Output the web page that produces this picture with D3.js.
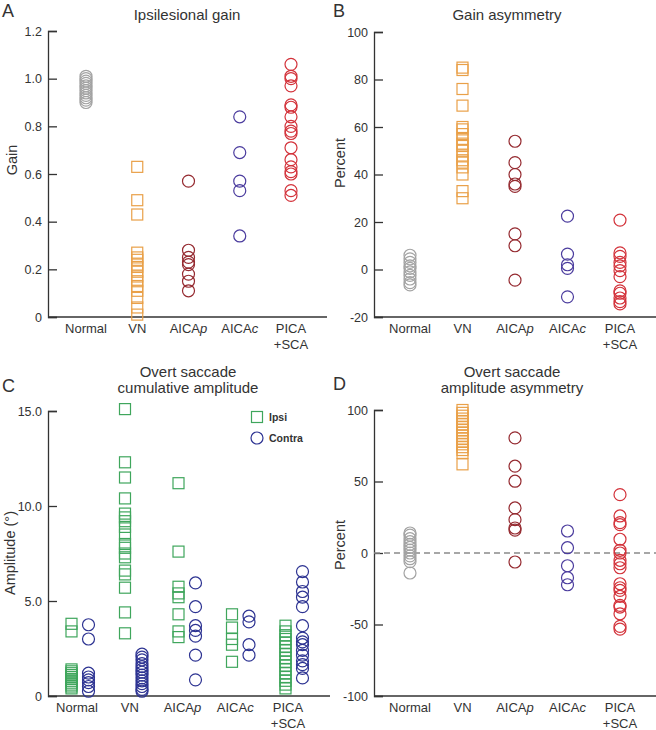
<!DOCTYPE html>
<html>
<head>
<meta charset="utf-8">
<script src="https://cdn.jsdelivr.net/npm/d3@7"></script>
<style>
  body { margin: 0; background: #fff; }
  text { font-family: "Liberation Sans", Arial, sans-serif; fill: #333; }
</style>
</head>
<body>
<div id="chart"></div>
<script>
const categories = ["Normal", "VN", "AICAp", "AICAc", "PICA+SCA"]

// A: ipsilesional gain
const gainNormal = [1.01, 1.0, 0.99, 0.98, 0.97, 0.96, 0.95, 0.94, 0.93, 0.92, 0.91, 0.90]
const gainVN = [0.63, 0.49, 0.43, 0.27, 0.25, 0.24, 0.22, 0.21, 0.19, 0.17, 0.15, 0.13, 0.11, 0.08, 0.04, 0.01]
const gainAICAp = [0.57, 0.28, 0.25, 0.23, 0.22, 0.18, 0.15, 0.11]
const gainAICAc = [0.84, 0.69, 0.57, 0.53, 0.34]
const gainPICA = [1.06, 1.01, 1.0, 0.97, 0.89, 0.88, 0.84, 0.80, 0.78, 0.77, 0.71, 0.66, 0.63, 0.61, 0.60, 0.53, 0.51]

// B: gain asymmetry (%)
const asymNormal = [6, 4.5, 3, 1.5, 0.5, -1, -2.5, -4, -5.5, -6.5]
const asymVN = [85, 84, 76, 69, 60, 59, 57, 55, 53, 52, 50, 48, 46, 45, 43, 40, 33, 30]
const asymAICAp = [54, 45, 40, 36, 35, 15, 10, -4.5]
const asymAICAc = [22.5, 6.5, 2, 0.5, -11.5]
const asymPICA = [20.8, 7, 5.5, 3, 1.5, -0.5, -3, -9, -10, -12, -13.5, -14.5]

// C: overt saccade cumulative amplitude (deg)
const ampIpsiNormal = [3.8, 3.4, 1.4, 1.3, 1.2, 1.1, 1.0, 0.9, 0.8, 0.7, 0.6, 0.5, 0.4]
const ampContraNormal = [3.75, 3.0, 1.2, 1.0, 0.85, 0.7, 0.5, 0.25]
const ampIpsiVN = [15.1, 12.3, 11.5, 10.4, 9.6, 9.4, 9.2, 8.9, 8.5, 8.0, 7.8, 7.5, 7.3, 6.6, 6.4, 5.7, 4.4, 3.3]
const ampContraVN = [2.2, 2.05, 1.9, 1.7, 1.55, 1.4, 1.25, 1.1, 0.95, 0.8, 0.65, 0.5, 0.35, 0.25]
const ampIpsiAICAp = [11.2, 7.6, 5.75, 5.4, 5.2, 4.3, 3.4, 3.1]
const ampContraAICAp = [5.95, 4.7, 3.7, 3.45, 3.15, 2.15, 0.85]
const ampIpsiAICAc = [4.3, 3.6, 3.0, 2.7, 1.8]
const ampContraAICAc = [4.2, 3.9, 2.7, 2.15]
const ampIpsiPICA = [3.7, 3.4, 3.2, 3.0, 2.8, 2.6, 2.4, 2.2, 2.0, 1.8, 1.6, 1.4, 1.2, 1.0, 0.8, 0.6, 0.4]
const ampContraPICA = [6.55, 6.0, 5.5, 5.2, 4.7, 3.7, 3.05, 2.85, 2.7, 2.4, 2.15, 1.85, 1.65, 1.45, 0.95]

// D: overt saccade amplitude asymmetry (%)
const saccNormal = [14, 12.5, 10, 8, 6, 4, 2, 0, -2, -4, -6, -14]
const saccVN = [100, 98, 96, 94, 92, 90, 88, 86, 84, 82, 80, 78, 76, 74, 72, 70, 62]
const saccAICAp = [80.5, 60.7, 50.2, 31.5, 23.3, 17.5, 16, -6.3]
const saccAICAc = [15.4, 3.7, -8.9, -17.3, -22.2]
const saccPICA = [40.8, 25.9, 21.2, 19.8, 9.6, 1.9, 0, -5.1, -7.5, -10.3, -21.5, -24.3, -26.1, -30.3, -36.6, -37.8, -42.5, -51.3, -53.2]

const yTicksA = [0, 0.2, 0.4, 0.6, 0.8, 1.0, 1.2]
const yTicksB = [-20, 0, 20, 40, 60, 80, 100]
const yTicksC = [0, 5, 10, 15]
const yTicksD = [-100, -50, 0, 50, 100]

const col = {
  normal: "#a3a3a3",
  vn: "#e9a048",
  aicap: "#952a30",
  aicac: "#4b3c9e",
  pica: "#d3323a",
  ipsi: "#3fa65c",
  contra: "#2d3392"
}

const W = 656, H = 730
const svg = d3.select("#chart").append("svg").attr("width", W).attr("height", H)

function fmtDec(d) { return d === 0 ? "0" : d3.format(".1f")(d) }
function fmtInt(d) { return String(d) }

function drawPanel(p) {
  const g = svg.append("g")
  const x = d3.scalePoint().domain(categories).range(p.xr)
  const xl = d3.scalePoint().domain(categories).range(p.labelXr || p.xr)
  const y = d3.scaleLinear().domain(p.yd).range([p.bottom, p.top])

  // y axis, ticks point inward
  const yAxis = d3.axisLeft(y).tickValues(p.ticks).tickFormat(p.fmt).tickSizeOuter(0).tickSize(-9).tickPadding(6)
  const ya = g.append("g").attr("transform", `translate(${p.left},0)`).call(yAxis)
  ya.select(".domain").attr("stroke", "#333").attr("stroke-width", 1.3)
  ya.selectAll(".tick line").attr("stroke", "#333").attr("stroke-width", 1.3)
  ya.selectAll(".tick text").style("font-size", "12.5px").attr("fill", "#333")

  // x axis line
  g.append("line").attr("x1", p.left).attr("x2", p.right)
    .attr("y1", p.bottom).attr("y2", p.bottom)
    .attr("stroke", "#333").attr("stroke-width", 1.3)

  // x labels
  categories.forEach(c => {
    const lx = xl(c)
    const t = g.append("text").attr("x", lx).attr("y", p.bottom + 16)
      .attr("text-anchor", "middle").style("font-size", "13px")
    if (c === "AICAp" || c === "AICAc") {
      t.append("tspan").text("AICA")
      t.append("tspan").style("font-style", "italic").text(c.slice(4))
    } else if (c === "PICA+SCA") {
      t.append("tspan").attr("x", lx).text("PICA")
      t.append("tspan").attr("x", lx).attr("dy", 15.5).text("+SCA")
    } else {
      t.text(c)
    }
  })

  if (p.zeroLine) {
    g.append("line").attr("x1", p.left).attr("x2", p.right)
      .attr("y1", y(0)).attr("y2", y(0))
      .attr("stroke", "#8a8a8a").attr("stroke-width", 1.5).attr("stroke-dasharray", "6,4")
  }

  // markers
  p.series.forEach(s => {
    const cx = x(s.cat) + (s.dx || 0)
    if (s.shape === "square") {
      g.selectAll(null).data(s.values).enter().append("rect")
        .attr("x", cx - 5.5).attr("y", d => y(d) - 5.5)
        .attr("width", 11).attr("height", 11)
        .attr("fill", "none").attr("stroke", s.color).attr("stroke-width", 1.2)
    } else {
      g.selectAll(null).data(s.values).enter().append("circle")
        .attr("cx", cx).attr("cy", d => y(d)).attr("r", 6)
        .attr("fill", "none").attr("stroke", s.color).attr("stroke-width", 1.2)
    }
  })

  // title and panel letter
  p.title.forEach((line, i) => {
    g.append("text").attr("x", p.titleX).attr("y", p.titleY + i * 15.5)
      .attr("text-anchor", "middle").style("font-size", "15px").text(line)
  })
  g.append("text").attr("x", p.letterX).attr("y", p.letterY)
    .style("font-size", "18px").text(p.letter)

  // y label
  g.append("text").attr("transform", `translate(${p.ylabX},${p.ylabY}) rotate(-90)`)
    .attr("text-anchor", "middle").style("font-size", "14.5px").text(p.ylab)
}

drawPanel({
  letter: "A", letterX: 2, letterY: 17,
  title: ["Ipsilesional gain"], titleX: 187, titleY: 20,
  left: 48, right: 327, top: 31, bottom: 317, xr: [86, 291],
  yd: [0, 1.2], ticks: yTicksA, fmt: fmtDec,
  ylab: "Gain", ylabX: 17, ylabY: 160,
  series: [
    { cat: "Normal", values: gainNormal, shape: "circle", color: col.normal },
    { cat: "VN", values: gainVN, shape: "square", color: col.vn },
    { cat: "AICAp", values: gainAICAp, shape: "circle", color: col.aicap },
    { cat: "AICAc", values: gainAICAc, shape: "circle", color: col.aicac },
    { cat: "PICA+SCA", values: gainPICA, shape: "circle", color: col.pica }
  ]
})

drawPanel({
  letter: "B", letterX: 333, letterY: 17,
  title: ["Gain asymmetry"], titleX: 507, titleY: 20,
  left: 374, right: 656, top: 32, bottom: 317, xr: [410, 620],
  yd: [-20, 100], ticks: yTicksB, fmt: fmtInt,
  ylab: "Percent", ylabX: 345, ylabY: 163,
  series: [
    { cat: "Normal", values: asymNormal, shape: "circle", color: col.normal },
    { cat: "VN", values: asymVN, shape: "square", color: col.vn },
    { cat: "AICAp", values: asymAICAp, shape: "circle", color: col.aicap },
    { cat: "AICAc", values: asymAICAc, shape: "circle", color: col.aicac },
    { cat: "PICA+SCA", values: asymPICA, shape: "circle", color: col.pica }
  ]
})

drawPanel({
  letter: "C", letterX: 2, letterY: 392,
  title: ["Overt saccade", "cumulative amplitude"], titleX: 188, titleY: 377,
  left: 48, right: 330, top: 411, bottom: 696, xr: [80, 294], labelXr: [77, 288],
  yd: [0, 15], ticks: yTicksC, fmt: fmtDec,
  ylab: "Amplitude (°)", ylabX: 15, ylabY: 553,
  series: [
    { cat: "Normal", dx: -8.5, values: ampIpsiNormal, shape: "square", color: col.ipsi },
    { cat: "Normal", dx: 8.5, values: ampContraNormal, shape: "circle", color: col.contra },
    { cat: "VN", dx: -8.5, values: ampIpsiVN, shape: "square", color: col.ipsi },
    { cat: "VN", dx: 8.5, values: ampContraVN, shape: "circle", color: col.contra },
    { cat: "AICAp", dx: -8.5, values: ampIpsiAICAp, shape: "square", color: col.ipsi },
    { cat: "AICAp", dx: 8.5, values: ampContraAICAp, shape: "circle", color: col.contra },
    { cat: "AICAc", dx: -8.5, values: ampIpsiAICAc, shape: "square", color: col.ipsi },
    { cat: "AICAc", dx: 8.5, values: ampContraAICAc, shape: "circle", color: col.contra },
    { cat: "PICA+SCA", dx: -8.5, values: ampIpsiPICA, shape: "square", color: col.ipsi },
    { cat: "PICA+SCA", dx: 8.5, values: ampContraPICA, shape: "circle", color: col.contra }
  ]
})

drawPanel({
  letter: "D", letterX: 333, letterY: 390,
  title: ["Overt saccade", "amplitude asymmetry"], titleX: 512, titleY: 377,
  left: 374, right: 656, top: 410, bottom: 696, xr: [410, 620], zeroLine: true,
  yd: [-100, 100], ticks: yTicksD, fmt: fmtInt,
  ylab: "Percent", ylabX: 345, ylabY: 545,
  series: [
    { cat: "Normal", values: saccNormal, shape: "circle", color: col.normal },
    { cat: "VN", values: saccVN, shape: "square", color: col.vn },
    { cat: "AICAp", values: saccAICAp, shape: "circle", color: col.aicap },
    { cat: "AICAc", values: saccAICAc, shape: "circle", color: col.aicac },
    { cat: "PICA+SCA", values: saccPICA, shape: "circle", color: col.pica }
  ]
})

// legend for C
const legend = svg.append("g").attr("transform", "translate(257,417)")
legend.append("rect").attr("x", -5.5).attr("y", -5.5).attr("width", 11).attr("height", 11)
  .attr("fill", "none").attr("stroke", col.ipsi).attr("stroke-width", 1.2)
legend.append("text").attr("x", 12).attr("y", 4).style("font-size", "10.5px")
  .style("font-weight", "bold").text("Ipsi")
legend.append("circle").attr("cx", 0).attr("cy", 21).attr("r", 6)
  .attr("fill", "none").attr("stroke", col.contra).attr("stroke-width", 1.2)
legend.append("text").attr("x", 12).attr("y", 25).style("font-size", "10.5px")
  .style("font-weight", "bold").text("Contra")
</script>
</body>
</html>
